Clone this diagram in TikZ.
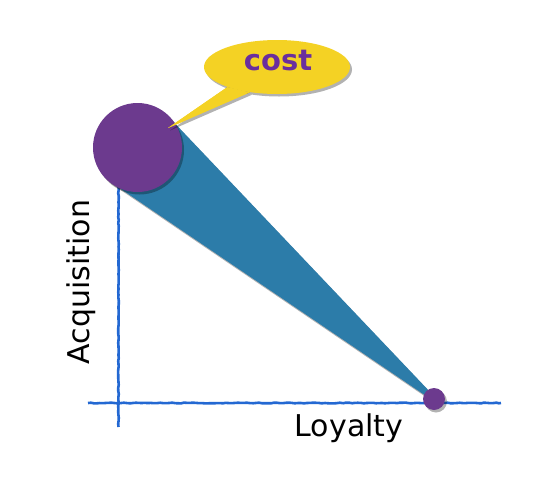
\documentclass[tikz,border=0pt]{standalone}
\usepackage{fontspec}
\setmainfont{DejaVu Sans}
\usetikzlibrary{shapes.geometric,shadows,calc,decorations.pathmorphing}
\definecolor{circpurple}{HTML}{6C3A8E}
\definecolor{wedgeblue}{HTML}{2C7CA9}
\definecolor{axisblue}{HTML}{2368D2}
\definecolor{calloutyellow}{HTML}{F4D224}
\definecolor{costpurple}{HTML}{6A2E9E}
\tikzset{
  softshadow/.style={drop shadow={shadow xshift=2pt,shadow yshift=-2.5pt,opacity=0.3,fill=black}},
  axisline/.style={axisblue,line width=2.6pt,decorate,decoration={random steps,segment length=3pt,amplitude=0.35pt}},
  disc/.style={circle,fill=circpurple,inner sep=0pt,softshadow},
  label/.style={font=\fontsize{30}{30}\selectfont,text=black,inner sep=0pt},
}
\begin{document}
\begin{tikzpicture}[x=1pt,y=-1pt]
\useasboundingbox (0,0) rectangle (550,504);
% axes
\coordinate (ytop) at (118.5,186);
\coordinate (ybot) at (118.5,427);
\coordinate (xl) at (88,403);
\coordinate (xr) at (501,403);
\draw[axisline] (ybot) -- (ytop);
\draw[axisline] (xl) -- (xr);
% circles (positions)
\node[circle,minimum size=89pt,inner sep=0pt] (big) at (137.5,147.5) {};
\node[circle,minimum size=22pt,inner sep=0pt] (small) at (434,399) {};
% wedge
\fill[wedgeblue,softshadow] ($(big.center)!44pt!90:(small.center)$) -- ($(small.center)!2pt!-90:(big.center)$) -- ($(small.center)!2pt!90:(big.center)$) -- ($(big.center)!44pt!-90:(small.center)$) -- cycle;
% discs
\node[disc,minimum size=89pt] at (big) {};
\node[disc,minimum size=22pt] at (small) {};
% labels
\node[label,rotate=90] (acq) at (81,282) {Acquisition};
\node[label] (loy) at (349,428) {Loyalty};
% callout
\node[ellipse,minimum width=146pt,minimum height=54pt,inner sep=0pt] (callout) at (277,67) {};
\coordinate (tip) at (168,128);
\fill[calloutyellow,softshadow] (callout.202) -- (tip) -- (callout.223) -- cycle;
\node[ellipse,fill=calloutyellow,minimum width=146pt,minimum height=54pt,inner sep=0pt,softshadow] at (callout) {};
\fill[calloutyellow] (callout.202) -- (tip) -- (callout.223) -- cycle;
\node[font=\bfseries\fontsize{29}{29}\selectfont,text=costpurple,inner sep=0pt] (cost) at (278,61) {cost};
\end{tikzpicture}
\end{document}
